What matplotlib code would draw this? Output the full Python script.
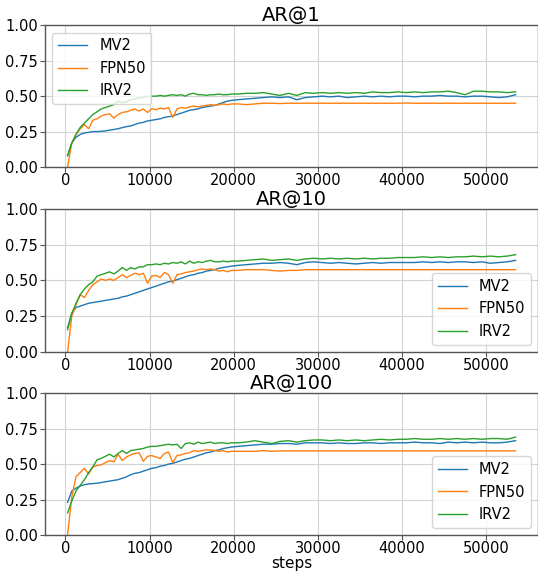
import numpy as np
import matplotlib
matplotlib.use("Agg")
import matplotlib.pyplot as plt

# training steps at which the recall was evaluated
steps = [250, 750, 1250, 1750, 2250, 2750, 3250, 3750, 4250, 4750,
         5250, 5750, 6250, 6750, 7250, 7750, 8250, 8750, 9250, 9750,
         10250, 10750, 11250, 11750, 12250, 12750, 13250, 13750, 14250, 14750,
         15250, 15750, 16250, 16750, 17250, 17750, 18250, 18750, 19250, 19750,
         20500, 21500, 22500, 23500, 24500, 25500, 26500, 27500, 28500, 29500,
         30500, 31500, 32500, 33500, 34500, 35500, 36500, 37500, 38500, 39500,
         40500, 41500, 42500, 43500, 44500, 45500, 46500, 47500, 48500, 49500,
         50500, 51500, 52500, 53500]

models = ["MV2", "FPN50", "IRV2"]
titles = ["AR@1", "AR@10", "AR@100"]

# ---- AR@1 ----
ar1_mv2 = [0.08, 0.17, 0.21, 0.23, 0.24, 0.245, 0.25, 0.25, 0.252, 0.255,
           0.26, 0.265, 0.27, 0.278, 0.285, 0.29, 0.30, 0.31, 0.315, 0.325,
           0.33, 0.335, 0.34, 0.35, 0.355, 0.36, 0.37, 0.38, 0.39, 0.40,
           0.405, 0.41, 0.42, 0.425, 0.43, 0.435, 0.445, 0.455, 0.465, 0.47,
           0.475, 0.48, 0.485, 0.49, 0.495, 0.49, 0.495, 0.475, 0.49, 0.495,
           0.50, 0.495, 0.50, 0.49, 0.495, 0.50, 0.495, 0.50, 0.495, 0.50,
           0.50, 0.495, 0.50, 0.50, 0.505, 0.50, 0.50, 0.495, 0.50, 0.50,
           0.495, 0.49, 0.495, 0.51]
ar1_fpn = [0.0, 0.17, 0.23, 0.27, 0.30, 0.27, 0.33, 0.34, 0.36, 0.37,
           0.375, 0.345, 0.37, 0.385, 0.39, 0.40, 0.41, 0.395, 0.41, 0.385,
           0.41, 0.405, 0.415, 0.41, 0.42, 0.35, 0.41, 0.42, 0.415, 0.425,
           0.43, 0.425, 0.43, 0.435, 0.44, 0.435, 0.44, 0.445, 0.44, 0.445,
           0.445, 0.44, 0.445, 0.45, 0.45, 0.448, 0.45, 0.45, 0.45, 0.45,
           0.45, 0.45, 0.45, 0.45, 0.45, 0.45, 0.45, 0.45, 0.45, 0.45,
           0.452, 0.45, 0.45, 0.45, 0.45, 0.45, 0.45, 0.45, 0.45, 0.45,
           0.45, 0.45, 0.45, 0.45]
ar1_irv = [0.08, 0.17, 0.23, 0.28, 0.31, 0.34, 0.37, 0.39, 0.41, 0.42,
           0.43, 0.44, 0.465, 0.455, 0.46, 0.475, 0.48, 0.49, 0.49, 0.50,
           0.50, 0.50, 0.505, 0.50, 0.505, 0.51, 0.505, 0.51, 0.50, 0.515,
           0.52, 0.51, 0.51, 0.505, 0.51, 0.51, 0.515, 0.51, 0.51, 0.515,
           0.515, 0.52, 0.52, 0.525, 0.515, 0.505, 0.52, 0.505, 0.525, 0.52,
           0.525, 0.52, 0.525, 0.52, 0.525, 0.52, 0.53, 0.525, 0.525, 0.53,
           0.525, 0.53, 0.525, 0.53, 0.53, 0.535, 0.525, 0.51, 0.535, 0.535,
           0.53, 0.53, 0.525, 0.53]

# ---- AR@10 ----
ar10_mv2 = [0.17, 0.27, 0.31, 0.32, 0.33, 0.34, 0.345, 0.35, 0.355, 0.36,
            0.365, 0.37, 0.375, 0.385, 0.39, 0.40, 0.41, 0.42, 0.43, 0.44,
            0.45, 0.46, 0.47, 0.48, 0.49, 0.495, 0.505, 0.515, 0.525, 0.535,
            0.54, 0.55, 0.555, 0.565, 0.57, 0.575, 0.585, 0.59, 0.595, 0.60,
            0.605, 0.61, 0.615, 0.62, 0.62, 0.625, 0.62, 0.61, 0.625, 0.63,
            0.625, 0.62, 0.625, 0.62, 0.615, 0.62, 0.625, 0.62, 0.625, 0.625,
            0.625, 0.625, 0.63, 0.625, 0.63, 0.625, 0.63, 0.63, 0.625, 0.63,
            0.62, 0.625, 0.63, 0.64]
ar10_fpn = [0.0, 0.25, 0.33, 0.40, 0.38, 0.43, 0.47, 0.49, 0.51, 0.50,
            0.51, 0.50, 0.52, 0.54, 0.52, 0.535, 0.55, 0.54, 0.55, 0.48,
            0.53, 0.535, 0.52, 0.555, 0.54, 0.48, 0.54, 0.545, 0.555, 0.56,
            0.565, 0.575, 0.58, 0.575, 0.58, 0.575, 0.565, 0.57, 0.56, 0.57,
            0.57, 0.575, 0.575, 0.575, 0.57, 0.565, 0.57, 0.57, 0.575, 0.575,
            0.575, 0.575, 0.575, 0.575, 0.575, 0.575, 0.575, 0.575, 0.575, 0.575,
            0.575, 0.575, 0.575, 0.575, 0.575, 0.575, 0.575, 0.575, 0.575, 0.575,
            0.575, 0.575, 0.575, 0.575]
ar10_irv = [0.155, 0.27, 0.34, 0.40, 0.44, 0.47, 0.49, 0.53, 0.54, 0.55,
            0.56, 0.545, 0.565, 0.59, 0.57, 0.59, 0.58, 0.595, 0.595, 0.61,
            0.61, 0.615, 0.61, 0.62, 0.615, 0.625, 0.62, 0.63, 0.615, 0.635,
            0.62, 0.63, 0.625, 0.635, 0.64, 0.63, 0.63, 0.635, 0.63, 0.635,
            0.635, 0.64, 0.645, 0.65, 0.64, 0.645, 0.65, 0.64, 0.65, 0.655,
            0.65, 0.655, 0.65, 0.655, 0.65, 0.655, 0.65, 0.655, 0.655, 0.66,
            0.66, 0.66, 0.665, 0.66, 0.665, 0.66, 0.665, 0.665, 0.67, 0.665,
            0.67, 0.665, 0.67, 0.68]

# ---- AR@100 ----
ar100_mv2 = [0.23, 0.31, 0.33, 0.345, 0.355, 0.36, 0.362, 0.365, 0.37, 0.375,
             0.38, 0.385, 0.39, 0.40, 0.41, 0.425, 0.435, 0.44, 0.45, 0.46,
             0.47, 0.475, 0.485, 0.49, 0.50, 0.505, 0.515, 0.525, 0.535, 0.54,
             0.55, 0.56, 0.57, 0.58, 0.585, 0.595, 0.60, 0.61, 0.615, 0.62,
             0.625, 0.63, 0.635, 0.64, 0.64, 0.645, 0.645, 0.64, 0.65, 0.65,
             0.65, 0.645, 0.65, 0.645, 0.645, 0.65, 0.65, 0.645, 0.65, 0.65,
             0.65, 0.655, 0.65, 0.65, 0.645, 0.655, 0.65, 0.655, 0.65, 0.655,
             0.65, 0.65, 0.655, 0.665]
ar100_fpn = [0.0, 0.27, 0.41, 0.44, 0.47, 0.43, 0.48, 0.49, 0.495, 0.51,
             0.525, 0.515, 0.57, 0.525, 0.55, 0.565, 0.575, 0.58, 0.52, 0.555,
             0.56, 0.55, 0.54, 0.575, 0.585, 0.51, 0.56, 0.565, 0.575, 0.58,
             0.595, 0.59, 0.595, 0.60, 0.60, 0.595, 0.59, 0.595, 0.585, 0.59,
             0.59, 0.59, 0.59, 0.595, 0.59, 0.593, 0.593, 0.593, 0.593, 0.593,
             0.593, 0.593, 0.593, 0.593, 0.593, 0.593, 0.593, 0.593, 0.593, 0.593,
             0.593, 0.593, 0.593, 0.593, 0.593, 0.593, 0.593, 0.593, 0.593, 0.593,
             0.593, 0.593, 0.593, 0.593]
ar100_irv = [0.155, 0.24, 0.31, 0.35, 0.39, 0.44, 0.48, 0.53, 0.54, 0.555,
             0.57, 0.55, 0.575, 0.595, 0.575, 0.595, 0.60, 0.605, 0.61, 0.62,
             0.625, 0.625, 0.63, 0.635, 0.64, 0.635, 0.64, 0.61, 0.645, 0.65,
             0.64, 0.655, 0.645, 0.65, 0.655, 0.645, 0.65, 0.65, 0.645, 0.65,
             0.65, 0.655, 0.665, 0.655, 0.645, 0.66, 0.665, 0.655, 0.665, 0.67,
             0.67, 0.665, 0.67, 0.665, 0.67, 0.665, 0.67, 0.675, 0.67, 0.675,
             0.675, 0.68, 0.675, 0.675, 0.68, 0.675, 0.68, 0.675, 0.68, 0.675,
             0.68, 0.68, 0.675, 0.69]

panels = [
    (ar1_mv2, ar1_fpn, ar1_irv),
    (ar10_mv2, ar10_fpn, ar10_irv),
    (ar100_mv2, ar100_fpn, ar100_irv),
]
legend_locs = ["upper left", "lower right", "lower right"]
colors = ["#1f77b4", "#ff7f0e", "#2ca02c"]

plt.rcParams.update({
    "font.size": 10.5,
    "axes.edgecolor": "#555555",
    "axes.linewidth": 1.0,
    "xtick.color": "#555555",
    "ytick.color": "#555555",
    "xtick.labelcolor": "black",
    "ytick.labelcolor": "black",
    "xtick.labelsize": 10.5,
    "ytick.labelsize": 10.5,
    "xtick.major.pad": 1.0,
    "ytick.major.pad": 1.5,
})

fig = plt.figure(figsize=(5.38, 5.74), dpi=100)
boxes = [
    (0.084, 0.709, 0.916, 0.247),
    (0.084, 0.387, 0.916, 0.249),
    (0.084, 0.068, 0.916, 0.247),
]

for i, (series, title) in enumerate(zip(panels, titles)):
    ax = fig.add_axes(boxes[i])
    for vals, name, c in zip(series, models, colors):
        ax.plot(steps, vals, color=c, lw=1.0, label=name)
    ax.set_ylim(0, 1)
    ax.set_yticks([0, 0.25, 0.5, 0.75, 1.0])
    ax.set_xticks([0, 10000, 20000, 30000, 40000, 50000])
    ax.grid(True, color="#d3d3d3", lw=0.8)
    ax.set_axisbelow(True)
    ax.set_title(title, fontsize=14, pad=1)
    ax.legend(loc=legend_locs[i], fontsize=10.5)
    if i == 2:
        ax.set_xlabel("steps", fontsize=11, labelpad=0)

plt.savefig("out.png", dpi=100)
plt.close()
